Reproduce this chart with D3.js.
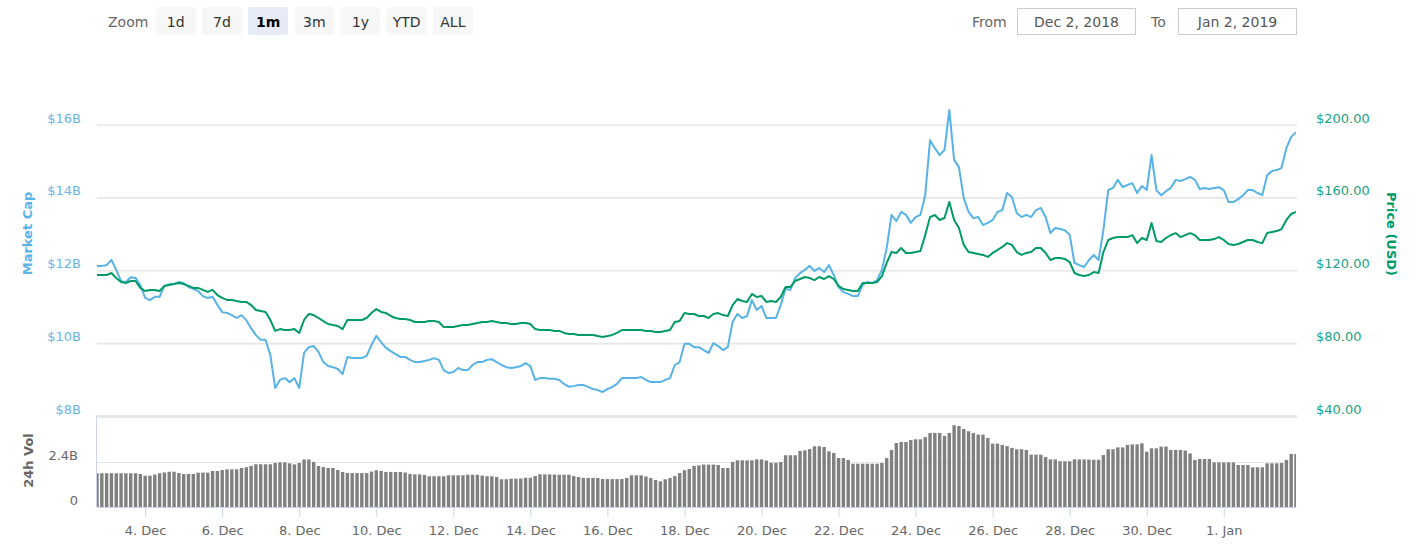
<!DOCTYPE html>
<html><head><meta charset="utf-8">
<script src="https://cdn.jsdelivr.net/npm/d3@7"></script>
<style>
body{margin:0;background:#fff;}
svg{display:block;font-family:"DejaVu Sans",sans-serif;}
</style></head><body>
<svg id="c" width="1427" height="555"></svg>
<script>
// ---------- data ----------
const startTime = Date.UTC(2018, 11, 2, 18);   // first sample
const stepHours = 3;                            // sampling step
const marketCapB = [12.12,12.12,12.14,12.28,12.01,11.70,11.68,11.81,11.79,11.59,
11.24,11.18,11.27,11.27,11.57,11.62,11.62,11.68,11.65,11.54,
11.49,11.43,11.29,11.24,11.27,11.05,10.85,10.83,10.77,10.69,
10.77,10.63,10.41,10.22,10.09,10.09,9.67,8.77,8.99,9.04,
8.93,9.04,8.77,9.73,9.89,9.92,9.76,9.48,9.37,9.34,
9.29,9.15,9.62,9.59,9.59,9.59,9.65,9.95,10.20,10.03,
9.87,9.78,9.70,9.62,9.62,9.54,9.48,9.48,9.51,9.54,
9.59,9.54,9.26,9.18,9.21,9.32,9.26,9.26,9.40,9.48,
9.48,9.54,9.56,9.48,9.40,9.34,9.32,9.34,9.37,9.45,
9.37,8.99,9.04,9.04,9.02,9.02,8.99,8.88,8.80,8.82,
8.85,8.85,8.80,8.74,8.71,8.66,8.74,8.80,8.88,9.04,
9.04,9.04,9.04,9.07,8.99,8.93,8.93,8.93,8.99,9.04,
9.40,9.48,9.98,9.98,9.89,9.89,9.81,9.73,10.00,9.92,
9.81,9.89,10.58,10.80,10.69,10.74,11.18,10.91,11.02,10.69,
10.69,10.69,11.05,11.49,11.46,11.79,11.92,12.01,12.12,11.98,
12.06,11.95,12.14,11.87,11.54,11.40,11.35,11.29,11.29,11.59,
11.68,11.65,11.73,12.01,12.61,13.52,13.35,13.60,13.52,13.30,
13.46,13.52,14.06,15.57,15.35,15.16,15.30,16.40,15.03,14.83,
13.98,13.60,13.43,13.46,13.24,13.30,13.38,13.60,13.65,14.12,
14.01,13.57,13.46,13.52,13.46,13.65,13.71,13.46,13.02,13.16,
13.13,13.10,12.97,12.20,12.14,12.09,12.28,12.42,12.28,13.10,
14.20,14.26,14.48,14.28,14.34,14.39,14.12,14.31,14.20,15.16,
14.20,14.06,14.17,14.26,14.48,14.45,14.50,14.56,14.48,14.23,
14.26,14.23,14.26,14.28,14.20,13.87,13.87,13.95,14.06,14.20,
14.20,14.12,14.06,14.61,14.72,14.75,14.81,15.35,15.66,15.79];
const priceUSD = [117.4,117.4,117.4,118.5,115.7,113.5,113.0,114.1,114.1,110.3,
108.6,109.2,109.2,108.6,111.4,111.9,112.4,113.0,112.4,111.4,
110.3,110.3,109.2,108.1,109.2,106.4,104.8,103.7,103.7,103.1,
102.6,102.6,100.9,98.2,97.6,97.1,92.7,86.7,87.7,87.2,
87.2,87.7,85.6,92.7,96.0,95.4,93.8,92.1,90.5,89.9,
89.4,87.7,92.7,92.7,92.7,92.7,93.8,96.5,98.7,97.1,
96.5,94.9,93.8,93.2,93.2,92.7,91.6,91.6,91.6,92.1,
92.1,91.6,88.8,88.8,88.8,89.4,89.9,89.9,90.5,91.0,
91.6,91.6,92.1,91.6,91.0,91.0,90.5,90.5,91.0,91.0,
90.5,87.7,87.2,87.2,87.2,86.7,86.7,85.6,85.0,85.0,
84.5,84.5,84.5,84.5,83.9,83.4,83.9,84.5,85.6,87.2,
87.2,87.2,87.2,87.2,86.7,86.7,86.1,86.1,86.7,87.2,
91.6,92.1,96.5,96.0,96.0,94.9,94.9,93.8,96.0,96.5,
95.4,94.9,100.9,104.2,103.1,102.6,107.0,105.3,105.9,102.6,
103.1,102.6,105.3,110.8,110.8,114.1,115.2,116.3,115.7,114.6,
116.3,115.2,116.8,115.2,111.4,109.7,109.2,108.6,108.6,113.0,
113.0,113.0,113.5,116.8,124.0,130.0,129.5,132.2,129.5,129.5,
130.0,130.6,139.3,149.2,150.3,147.6,148.7,157.5,147.6,143.2,
133.9,130.0,129.5,128.9,128.4,127.3,129.5,131.1,132.8,134.9,
133.9,130.0,128.4,129.5,130.0,132.2,132.2,129.5,125.6,126.7,
126.7,126.2,124.5,118.5,117.4,116.8,117.4,119.0,118.5,130.0,
136.6,137.7,138.2,138.2,138.2,139.3,134.9,137.7,136.6,145.9,
136.0,135.5,137.7,139.3,140.4,138.2,139.3,140.4,139.3,136.6,
136.6,136.6,137.1,138.2,136.6,134.4,133.9,134.4,135.5,136.6,
136.6,135.5,134.9,140.4,141.0,141.5,142.6,147.6,150.9,152.0];
const volumeB = [1.80,1.80,1.80,1.80,1.80,1.80,1.80,1.80,1.80,1.76,
1.67,1.67,1.73,1.80,1.84,1.88,1.88,1.81,1.76,1.76,
1.76,1.83,1.83,1.83,1.92,1.92,1.97,2.01,2.01,2.01,
2.08,2.12,2.19,2.28,2.28,2.28,2.28,2.35,2.38,2.38,
2.33,2.27,2.35,2.54,2.54,2.40,2.19,2.13,2.08,2.08,
1.97,1.87,1.81,1.81,1.81,1.81,1.81,1.89,1.96,1.92,
1.87,1.87,1.87,1.87,1.84,1.76,1.74,1.74,1.71,1.64,
1.64,1.64,1.64,1.69,1.69,1.69,1.69,1.72,1.72,1.72,
1.68,1.64,1.64,1.60,1.48,1.48,1.51,1.51,1.52,1.56,
1.56,1.65,1.74,1.74,1.74,1.73,1.72,1.72,1.72,1.65,
1.60,1.55,1.55,1.55,1.55,1.49,1.49,1.49,1.49,1.49,
1.55,1.69,1.69,1.69,1.63,1.55,1.44,1.37,1.48,1.55,
1.65,1.81,1.96,2.03,2.19,2.22,2.26,2.26,2.26,2.24,
2.08,2.08,2.40,2.49,2.49,2.49,2.49,2.54,2.54,2.48,
2.36,2.36,2.40,2.76,2.76,2.76,2.99,3.02,3.09,3.24,
3.24,3.20,2.97,2.88,2.61,2.61,2.51,2.31,2.31,2.31,
2.31,2.31,2.31,2.35,2.61,3.04,3.41,3.47,3.47,3.57,
3.61,3.61,3.73,3.95,3.95,3.95,3.79,3.95,4.36,4.32,
4.16,4.04,3.95,3.86,3.86,3.68,3.38,3.38,3.31,3.25,
3.15,3.08,3.08,3.04,2.79,2.79,2.79,2.67,2.54,2.54,
2.44,2.44,2.44,2.54,2.54,2.54,2.53,2.52,2.52,2.77,
3.08,3.08,3.18,3.18,3.31,3.34,3.34,3.40,2.95,3.13,
3.13,3.22,3.22,3.04,3.04,3.04,3.01,2.86,2.51,2.56,
2.56,2.56,2.38,2.38,2.38,2.38,2.38,2.24,2.24,2.24,
2.12,2.12,2.12,2.33,2.33,2.33,2.35,2.51,2.83,2.83];
const mcapTicks = [8, 10, 12, 14, 16];
const priceTicks = [40, 80, 120, 160, 200];
const volTicks = [0, 2.4];
const xTickDates = [[2018,11,4],[2018,11,6],[2018,11,8],[2018,11,10],[2018,11,12],[2018,11,14],
  [2018,11,16],[2018,11,18],[2018,11,20],[2018,11,22],[2018,11,24],[2018,11,26],[2018,11,28],
  [2018,11,30],[2019,0,1]];
const zoomButtons = ["1d", "7d", "1m", "3m", "1y", "YTD", "ALL"];
const selectedZoom = "1m";
const fromText = "Dec 2, 2018";
const toText = "Jan 2, 2019";

// ---------- layout ----------
const W = 1427, H = 555;
const L = 97, R = 1296;
const mainTop = 124.5, mainBot = 416;
const volBase = 507, volGrid = 462;
const cMcap = "#57b2e6", cPrice = "#009a67";

const svg = d3.select("#c");
const times = marketCapB.map((_, i) => new Date(startTime + i * stepHours * 3600e3));

const x = d3.scaleUtc().domain([times[0], times[times.length - 1]]).range([L, R]);
const yM = d3.scaleLinear().domain([8, 16]).range([mainBot, mainTop]);
const yP = d3.scaleLinear().domain([40, 200]).range([mainBot, mainTop]);
const yV = d3.scaleLinear().domain([0, 2.4]).range([volBase, volGrid]);

// ---------- toolbar ----------
const tb = svg.append("g");
tb.append("text").attr("x", 108).attr("y", 26.5).attr("font-size", 14).attr("fill", "#666").text("Zoom");
zoomButtons.forEach((b, i) => {
  const bx = 155.7 + i * 46.2;
  const sel = b === selectedZoom;
  tb.append("rect").attr("x", bx).attr("y", 7).attr("width", 40).attr("height", 28).attr("rx", 2)
    .attr("fill", sel ? "#e6ebf5" : "#f7f7f7");
  tb.append("text").attr("x", bx + 20).attr("y", 26.5).attr("text-anchor", "middle")
    .attr("font-size", 14).attr("font-weight", sel ? "bold" : "normal")
    .attr("fill", sel ? "#000" : "#333").text(b);
});
tb.append("text").attr("x", 972).attr("y", 26.5).attr("font-size", 14).attr("fill", "#666").text("From");
tb.append("text").attr("x", 1151).attr("y", 26.5).attr("font-size", 14).attr("fill", "#666").text("To");
[[1017.5, fromText], [1178.5, toText]].forEach(([bx, t]) => {
  tb.append("rect").attr("x", bx).attr("y", 8.5).attr("width", 118).attr("height", 26)
    .attr("fill", "#fff").attr("stroke", "#cccccc").attr("stroke-width", 1);
  tb.append("text").attr("x", bx + 59).attr("y", 26.5).attr("text-anchor", "middle")
    .attr("font-size", 14).attr("fill", "#555").text(t);
});

// ---------- main grid ----------
const grid = svg.append("g").attr("transform", `translate(${L},0)`)
  .call(d3.axisLeft(yM).tickValues(mcapTicks).tickSize(-(R - L + 1)).tickFormat(""));
grid.select(".domain").remove();
grid.selectAll(".tick line").attr("stroke", "#e6e6e6").attr("stroke-width", 1.6)
  .attr("stroke-width", d => d === 8 ? 3 : 1.6);

// left axis labels (market cap)
const ga = svg.append("g").attr("transform", `translate(${L},0)`)
  .call(d3.axisLeft(yM).tickValues(mcapTicks).tickSize(0).tickPadding(16).tickFormat(d => `$${d}B`));
ga.select(".domain").remove();
ga.selectAll("text").attr("font-size", 13).attr("font-family", "DejaVu Sans")
  .attr("fill", "#6ab4e8").attr("dy", "-2.4");

// right axis labels (price)
const gp = svg.append("g").attr("transform", `translate(${R},0)`)
  .call(d3.axisRight(yP).tickValues(priceTicks).tickSize(0).tickPadding(20).tickFormat(d => `$${d.toFixed(2)}`));
gp.select(".domain").remove();
gp.selectAll("text").attr("font-size", 13).attr("font-family", "DejaVu Sans")
  .attr("fill", "#17a383").attr("dy", "-2.4");

// axis titles
svg.append("text").attr("transform", "translate(27,233.5) rotate(-90)").attr("text-anchor", "middle")
  .attr("dy", "0.35em").attr("font-size", 13).attr("font-weight", "bold").attr("fill", "#5cb3e8").text("Market Cap");
svg.append("text").attr("transform", "translate(1392,234) rotate(90)").attr("text-anchor", "middle")
  .attr("dy", "0.35em").attr("font-size", 13).attr("font-weight", "bold").attr("fill", "#009a67").text("Price (USD)");
svg.append("text").attr("transform", "translate(28,460.5) rotate(-90)").attr("text-anchor", "middle")
  .attr("dy", "0.35em").attr("font-size", 13).attr("font-weight", "bold").attr("fill", "#666").text("24h Vol");

// ---------- lines ----------
svg.append("defs").append("clipPath").attr("id", "plotclip")
  .append("rect").attr("x", L).attr("y", 0).attr("width", R - L).attr("height", H);
const lines = svg.append("g").attr("clip-path", "url(#plotclip)");
lines.append("path").datum(marketCapB)
  .attr("d", d3.line().x((d, i) => x(times[i])).y(d => yM(d)))
  .attr("fill", "none").attr("stroke", cMcap).attr("stroke-width", 2).attr("stroke-linejoin", "round");
lines.append("path").datum(priceUSD)
  .attr("d", d3.line().x((d, i) => x(times[i])).y(d => yP(d)))
  .attr("fill", "none").attr("stroke", cPrice).attr("stroke-width", 2).attr("stroke-linejoin", "round");

// ---------- volume panel ----------
const vg = svg.append("g").attr("transform", `translate(${L},0)`)
  .call(d3.axisLeft(yV).tickValues(volTicks).tickSize(-(R - L + 1)).tickFormat(""));
vg.select(".domain").remove();
vg.selectAll(".tick line").attr("stroke", "#e6e6e6").attr("stroke-width", 1.2);

const pitch = x(times[1]) - x(times[0]);
const bw = pitch - 1.4;
svg.append("g").attr("clip-path", "url(#plotclip)").selectAll("rect").data(volumeB).join("rect")
  .attr("x", (d, i) => x(times[i]) - bw / 2).attr("width", bw)
  .attr("y", d => yV(d)).attr("height", d => volBase - yV(d))
  .attr("fill", "#808080");

// volume labels
const gv = svg.append("g").attr("transform", `translate(${L},0)`)
  .call(d3.axisLeft(yV).tickValues(volTicks).tickSize(0).tickPadding(19).tickFormat(d => d === 0 ? "0" : `${d}B`));
gv.select(".domain").remove();
gv.selectAll("text").attr("font-size", 13).attr("font-family", "DejaVu Sans").attr("fill", "#666").attr("dy", "-3");

// volume y-axis line
svg.append("line").attr("x1", L - 0.5).attr("x2", L - 0.5).attr("y1", 415).attr("y2", volBase)
  .attr("stroke", "#ccd6eb");

// ---------- x axis ----------
const gx = svg.append("g").attr("transform", `translate(0,${volBase})`)
  .call(d3.axisBottom(x).tickValues(xTickDates.map(a => new Date(Date.UTC(a[0], a[1], a[2]))))
    .tickSize(10).tickPadding(9).tickFormat(d3.utcFormat("%-d. %b")));
gx.select(".domain").attr("stroke", "#ccd6eb").attr("d", `M${L},0.5H${R}`);
gx.selectAll(".tick line").attr("stroke", "#ccd6eb");
gx.selectAll("text").attr("font-size", 13).attr("font-family", "DejaVu Sans").attr("fill", "#666");
</script>
</body></html>
